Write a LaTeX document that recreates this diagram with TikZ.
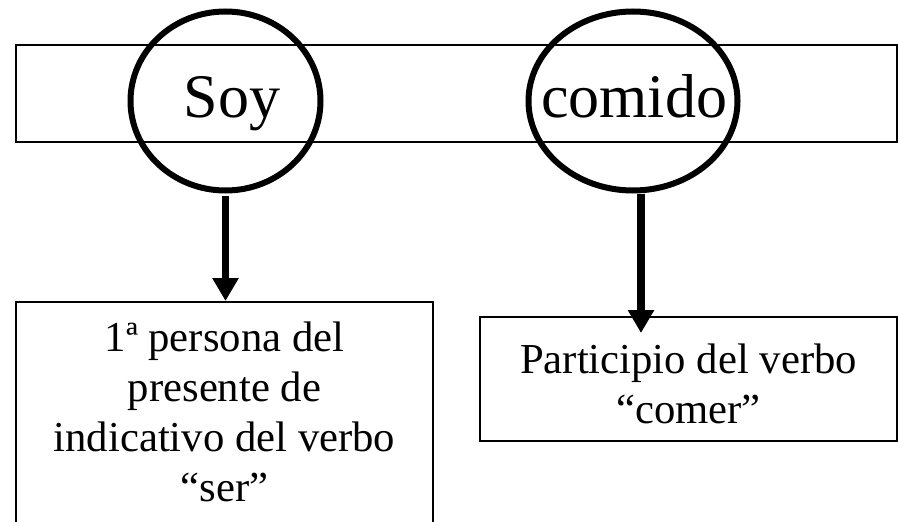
\documentclass[tikz,border=0pt]{standalone}
\usepackage{fontspec}
\setmainfont{Liberation Serif}
\usetikzlibrary{arrows.meta,shapes.geometric}
\tikzset{
  band/.style={draw, line width=2pt, rectangle, inner sep=0pt},
  ring/.style={draw, line width=6pt, ellipse, inner sep=0pt},
  bigword/.style={font=\fontsize{62}{70}\selectfont, inner sep=0pt, anchor=base},
  infobox/.style={draw, line width=2pt, rectangle, inner sep=0pt},
  infotext/.style={font=\fontsize{42.7}{50}\selectfont, align=center, inner sep=0pt},
  pointer/.style={line width=7.5pt, -{Triangle[length=23pt,width=25pt]}}
}
\begin{document}
\begin{tikzpicture}[x=1pt,y=-1pt]
\useasboundingbox (0,0) rectangle (900,522);
\fill[white] (0,0) rectangle (900,522);
% top band
\node[band, minimum width=881pt, minimum height=97pt] (band) at (456.5,93.5) {};
% ellipses
\node[ring, minimum width=190pt, minimum height=179pt] (soy) at (225.5,101) {};
\node[ring, minimum width=209pt, minimum height=179pt] (comido) at (633,101) {};
\node[bigword] (soyt) at (232,117) {Soy};
\node[bigword] (comidot) at (634,117) {comido};
% boxes
\node[infobox, minimum width=417pt, minimum height=250pt, anchor=north] (box1) at (224.5,301) {};
\node[infobox, minimum width=417pt, minimum height=124pt] (box2) at (688.5,379) {};
\node[infotext, anchor=north] (box1t) at (224.5,322) {1ª persona del\\presente de\\indicativo del verbo\\“ser”};
\node[infotext] (box2t) at (688.5,384) {Participio del verbo\\“comer”};
% arrows
\draw[pointer] ([yshift=-2pt]soy.south) -- (soy.south |- box1.north);
\coordinate (c2) at ([xshift=8pt]comido.south);
\draw[pointer] (c2) -- ([yshift=-17pt]c2 |- box2.north);
\end{tikzpicture}
\end{document}
